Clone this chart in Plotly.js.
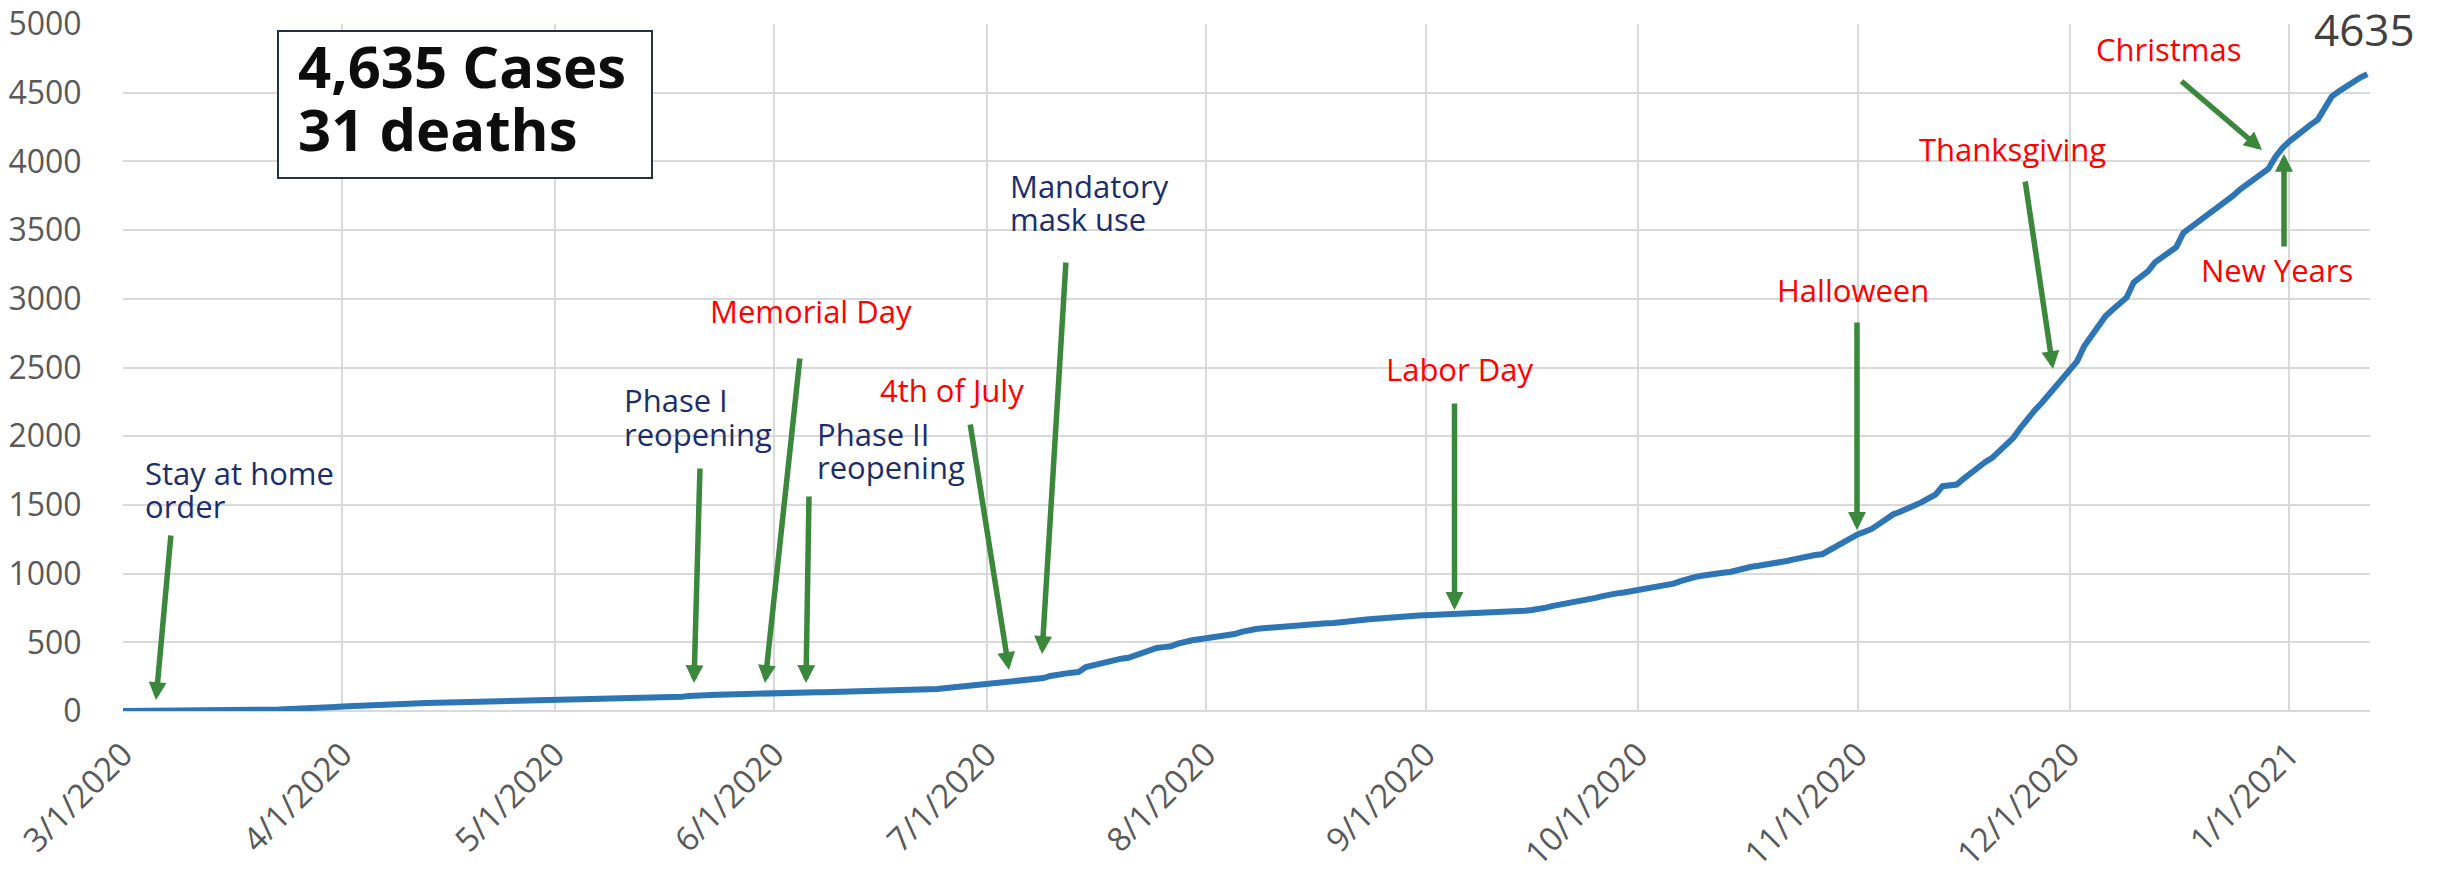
<!DOCTYPE html>
<html>
<head>
<meta charset="utf-8">
<script src="https://cdn.plot.ly/plotly-3.0.1.min.js"></script>
<style>html,body{margin:0;padding:0;background:#fff;}#chart{width:2443px;height:873px;}</style>
</head>
<body>
<div id="chart"></div>
<script>
// Daily cumulative cases (one value per day)
const mar2020 = [0,0,0,0,0,1,1,1,1,2,2,2,3,3,4,4,5,6,7,8,9,10,11,12,14,16,18,21,24,27,30];
const apr2020 = [33,36,38,41,44,46,48,50,52,53,55,56,58,59,60,61,62,63,64,65,66,67,68,69,70,71,72,74,76,78];
const may2020 = [80,80,81,82,82,83,84,84,85,86,86,87,88,89,91,93,94,98,104,110,115,116,117,118,120,121,122,123,124,125,126];
const jun2020 = [127,129,131,133,135,136,137,137,138,138,139,139,140,141,142,143,144,145,146,147,149,152,156,160,165,170,175,180,186,193];
const jul2020 = [200,207,214,221,223,226,228,231,240,255,267,272,278,284,320,332,346,360,375,381,387,405,423,441,459,465,471,490,507,515,522];
const aug2020 = [529,533,538,543,560,576,591,597,602,607,611,615,619,623,627,631,634,638,641,644,651,657,663,668,673,678,683,687,690,692,695];
const sep2020 = [697,699,701,702,704,705,707,708,710,711,713,716,720,725,730,735,740,752,765,773,781,789,796,810,823,836,849,856,863,871];
const oct2020 = [879,889,898,908,918,927,945,963,974,985,995,1001,1006,1012,1028,1044,1050,1057,1063,1073,1082,1092,1104,1117,1129,1135,1141,1171,1201,1227,1255];
const nov2020 = [1285,1305,1325,1360,1395,1430,1450,1470,1490,1518,1547,1575,1636,1642,1648,1692,1736,1781,1811,1842,1891,1940,1988,2060,2133,2188,2242,2302,2363,2425];
const dec2020 = [2485,2545,2654,2730,2805,2873,2920,2965,3010,3120,3160,3200,3265,3300,3338,3375,3480,3517,3553,3590,3627,3663,3700,3748,3795,3830,3868,3906,3945,4030,4098];
const jan2021 = [4146,4190,4231,4268,4304,4390,4474,4510,4546,4580,4610,4635];

const monthKeys = ['2020-03','2020-04','2020-05','2020-06','2020-07','2020-08','2020-09','2020-10','2020-11','2020-12','2021-01'];
const monthData = [mar2020,apr2020,may2020,jun2020,jul2020,aug2020,sep2020,oct2020,nov2020,dec2020,jan2021];
const totalDeaths = 31;

const dates = [], cases = [];
monthKeys.forEach((k, m) => {
  monthData[m].forEach((v, i) => {
    dates.push(k + '-' + String(i + 1).padStart(2, '0'));
    cases.push(v);
  });
});
const lastCases = cases[cases.length - 1];

// ---- geometry (pixels) ----
const W = 2443, H = 873;
const ML = 123, MR = 73, MT = 24, MB = 162;
const PW = W - ML - MR, PH = H - MT - MB;
const PX = x => (x - ML) / PW;
const PY = y => (H - MB - y) / PH;

const NAVY = '#1b2d6b', RED = '#ff0000', GREEN = '#3b873b';
const FONT = 'Open Sans, Noto Sans, sans-serif';

// one text line; box trimmed to ascender..descender so stacked lines do not overlap
function txt(text, left, baseline, color, size) {
  const desc = 0.293 * size;
  return {
    xref: 'paper', yref: 'paper', x: PX(left - 1), y: PY(baseline + desc),
    xanchor: 'left', yanchor: 'bottom', valign: 'bottom',
    height: Math.round(1.06 * size), borderpad: 0,
    text: text, showarrow: false,
    font: {family: FONT, size: size, color: color}
  };
}
function arr(tipx, tipy, tailx, taily) {
  return {
    xref: 'paper', yref: 'paper', x: PX(tipx), y: PY(tipy),
    ax: tailx - tipx, ay: taily - tipy, axref: 'pixel', ayref: 'pixel',
    text: '', showarrow: true, arrowhead: 2, arrowsize: 0.65, arrowwidth: 5.5,
    arrowcolor: GREEN, standoff: 0, startstandoff: 0
  };
}

const LS = 31;
const annotations = [
  txt('Stay at home', 145, 486, NAVY, LS),
  txt('order', 145, 519, NAVY, LS),
  txt('Phase I', 624, 413, NAVY, LS),
  txt('reopening', 624, 447, NAVY, LS),
  txt('Memorial Day', 710, 324, RED, LS),
  txt('Phase II', 817, 447, NAVY, LS),
  txt('reopening', 817, 480, NAVY, LS),
  txt('4th of July', 880, 403, RED, LS),
  txt('Mandatory', 1010, 199, NAVY, LS),
  txt('mask use', 1010, 232, NAVY, LS),
  txt('Labor Day', 1386, 382, RED, LS),
  txt('Halloween', 1777, 303, RED, LS),
  txt('Thanksgiving', 1919, 162, RED, LS),
  txt('Christmas', 2096, 62, RED, LS),
  txt('New Years', 2201, 283, RED, LS),
  txt(String(lastCases), 2314, 47.5, '#404040', 44),
  txt('<b>' + lastCases.toLocaleString('en-US') + ' Cases</b>', 298, 89, '#0d0d0d', 58),
  txt('<b>' + totalDeaths + ' deaths</b>', 298, 152, '#0d0d0d', 58),
  arr(156, 700, 171, 534),
  arr(694, 683, 700, 467),
  arr(765, 683, 800, 357),
  arr(806, 683, 809, 495),
  arr(1009, 670, 970, 423),
  arr(1042, 654, 1066, 261),
  arr(1454.5, 610, 1454.5, 402),
  arr(1857, 530, 1857, 321),
  arr(2053, 369, 2025, 180),
  arr(2262, 150, 2180, 80),
  arr(2284, 154, 2284, 248)
];

const shapes = [{
  type: 'rect', xref: 'paper', yref: 'paper',
  x0: PX(278), x1: PX(652), y0: PY(31), y1: PY(178),
  line: {color: '#27303d', width: 2}, fillcolor: '#ffffff', layer: 'above'
}];

const trace = {
  x: dates, y: cases, type: 'scatter', mode: 'lines',
  line: {color: '#2e75b6', width: 6, shape: 'linear'},
  hoverinfo: 'x+y'
};

const layout = {
  width: W, height: H,
  margin: {l: ML, r: MR, t: MT, b: MB, pad: 0},
  paper_bgcolor: '#ffffff', plot_bgcolor: '#ffffff',
  showlegend: false,
  xaxis: {
    type: 'date', range: ['2020-03-01', '2021-01-12 09:00'],
    tick0: '2020-03-01', dtick: 'M1', tickformat: '%-m/%-d/%Y',
    tickangle: -45, tickfont: {family: FONT, size: 33, color: '#595959'},
    showgrid: true, gridcolor: '#d9d9d9', gridwidth: 2,
    zeroline: false, showline: false,
    ticks: 'outside', ticklen: 10, tickcolor: 'rgba(0,0,0,0)'
  },
  yaxis: {
    range: [0, 5000], tick0: 0, dtick: 500,
    tickfont: {family: FONT, size: 32, color: '#595959'},
    showgrid: true, gridcolor: '#d9d9d9', gridwidth: 2,
    zeroline: true, zerolinecolor: '#d9d9d9', zerolinewidth: 2,
    showline: false,
    ticks: 'outside', ticklen: 34, tickcolor: 'rgba(0,0,0,0)'
  },
  annotations: annotations,
  shapes: shapes
};

Plotly.newPlot('chart', [trace], layout, {displayModeBar: false, staticPlot: true});
</script>
</body>
</html>
